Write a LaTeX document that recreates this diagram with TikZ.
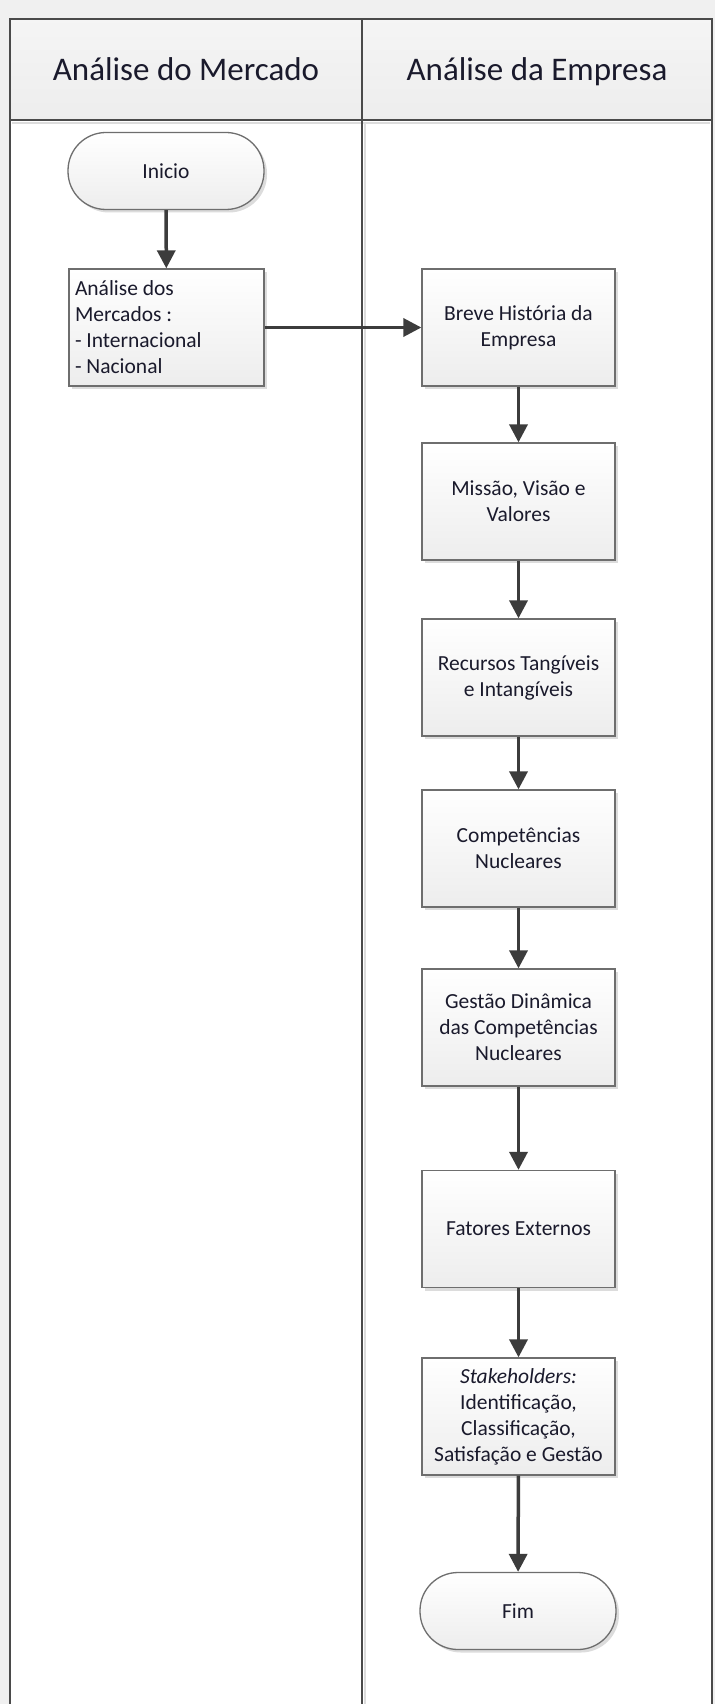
\documentclass[tikz,border=0pt]{standalone}
\usepackage{fontspec}
\setmainfont{Carlito}
\usetikzlibrary{arrows.meta,shadows}
\definecolor{lanegray}{HTML}{4A4A4A}
\definecolor{edgegray}{HTML}{6E6E6E}
\definecolor{arrowgray}{HTML}{3C3C3C}
\definecolor{bandgray}{HTML}{F0F0F0}
\definecolor{textdark}{HTML}{1A1A2C}
\definecolor{boxlow}{HTML}{EDEDED}
\definecolor{shadowgray}{HTML}{DCDCDC}

\begin{document}
\begin{tikzpicture}[x=1pt,y=-1pt,
  lane/.style={draw=lanegray, line width=2.8pt},
  laneshadow/.style={draw=shadowgray, line width=2pt},
  lanetitle/.style={font=\fontsize{33}{38}\selectfont, text=textdark, inner sep=0pt, anchor=base},
  shapebase/.style={draw=edgegray, line width=1.3pt, top color=white, bottom color=boxlow,
    text=textdark, font=\fontsize{21.5}{26}\selectfont,
    drop shadow={shadow xshift=3pt, shadow yshift=-3pt, fill=shadowgray, opacity=1}},
  stepbox/.style={shapebase, minimum width=193pt, minimum height=117pt, inner sep=6pt, align=center},
  notebox/.style={shapebase, minimum width=195pt, minimum height=117pt, inner sep=6pt, align=flush left,
    text width=183pt},
  terminal/.style={shapebase, rounded corners=38pt, minimum width=196pt, minimum height=77pt},
  flow/.style={draw=arrowgray, line width=3.5pt, -{Triangle[length=18pt,width=18pt]}}
]
\useasboundingbox (0,0) rectangle (715,1704);

% page background and swimlane frame
\fill[bandgray] (0,0) rectangle (715,1704);
\fill[white] (10,120) rectangle (712,1704);
\shade[top color=white!96!black, bottom color=black!7] (10,19) rectangle (712,120);
\draw[laneshadow] (365,122) -- (365,1704);
\draw[laneshadow] (12,123) -- (710,123);
\draw[lane] (10,1704) -- (10,19) -- (712,19) -- (712,1704);
\draw[lane] (10,120) -- (712,120);
\draw[lane] (362,19) -- (362,1704);

% lane titles
\node[lanetitle] (laneA) at (186,81) {Análise do Mercado};
\node[lanetitle] (laneB) at (537,81) {Análise da Empresa};

% market lane
\node[terminal] (inicio) at (166,171) {Inicio};
\node[notebox] (mercados) at (166.5,327.5) {Análise dos\\Mercados :\\- Internacional\\- Nacional};

% company lane
\node[stepbox] (breve) at (518.5,327.5) {Breve História da\\Empresa};
\node[stepbox] (missao) at (518.5,501.5) {Missão, Visão e\\Valores};
\node[stepbox] (recursos) at (518.5,677.5) {Recursos Tangíveis\\e Intangíveis};
\node[stepbox] (comp) at (518.5,848.5) {Competências\\Nucleares};
\node[stepbox] (gestao) at (518.5,1027.5) {Gestão Dinâmica\\das Competências\\Nucleares};
\node[stepbox] (fatores) at (518.5,1229) {Fatores Externos};
\node[stepbox] (stake) at (518.5,1416.5) {\textit{Stakeholders:}\\Identificação,\\Classificação,\\Satisfação e Gestão};
\node[terminal] (fim) at (518,1611) {Fim};

% connectors
\draw[flow] (inicio) -- (mercados);
\draw[flow] (mercados.east) -- (breve.west);
\draw[flow] (breve) -- (missao);
\draw[flow] (missao) -- (recursos);
\draw[flow] (recursos) -- (comp);
\draw[flow] (comp) -- (gestao);
\draw[flow] (gestao) -- (fatores);
\draw[flow] (fatores) -- (stake);
\draw[flow] (stake) -- (fim);
\end{tikzpicture}
\end{document}
